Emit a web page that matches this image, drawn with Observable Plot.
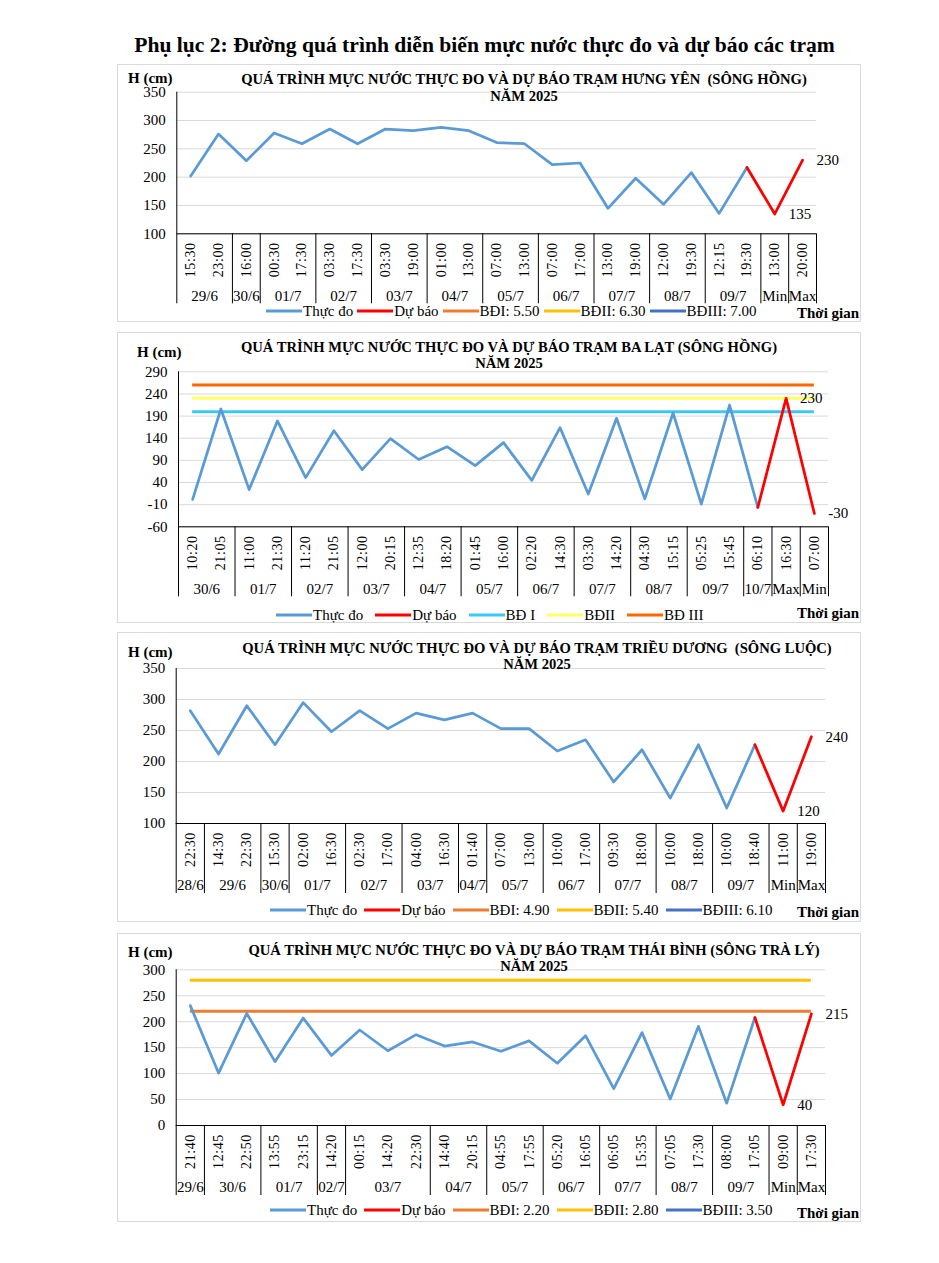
<!DOCTYPE html>
<html><head><meta charset="utf-8">
<script src="https://cdn.jsdelivr.net/npm/d3@7"></script>
<script src="https://cdn.jsdelivr.net/npm/@observablehq/plot@0.6"></script>
<style>
body{margin:0;background:#fff;font-family:"Liberation Serif","Times New Roman",serif;color:#000;}
#page{position:relative;width:939px;height:1263px;background:#fff;overflow:hidden;}
.main-title{position:absolute;top:32px;left:15px;width:939px;text-align:center;font-weight:bold;font-size:21.6px;line-height:26px;}
.box{position:absolute;left:117px;width:744px;border:1px solid #d9d9d9;box-sizing:border-box;}
.chart{position:absolute;left:117px;}
.t{position:absolute;white-space:pre;line-height:1;}
.ttl{font-weight:bold;font-size:14.6px;transform:translate(-50%,-50%);}
.hcm{font-weight:bold;font-size:15px;transform:translateY(-50%);}
.tg{font-weight:bold;font-size:15px;transform:translateY(-50%);}
.legend{position:absolute;display:flex;align-items:center;font-size:15px;transform:translateY(-50%);white-space:nowrap;}
.legend .sw{display:inline-block;width:36px;height:3px;margin-right:1px;}
</style>
</head><body>
<div id="page"><div class="main-title">Phụ lục 2: Đường quá trình diễn biến mực nước thực đo và dự báo các trạm</div></div>
<script>
// ---------- DATA ----------
// Panel 1: Hưng Yên (sông Hồng)
const hyTitle = "QUÁ TRÌNH MỰC NƯỚC THỰC ĐO VÀ DỰ BÁO TRẠM HƯNG YÊN  (SÔNG HỒNG)";
const hyTimes = ["15:30","23:00","16:00","00:30","17:30","03:30","17:30","03:30","19:00","01:00","13:00","07:00","13:00","07:00","17:00","13:00","19:00","12:00","19:30","12:15","19:30","13:00","20:00"];
const hyDays = ["29/6","29/6","30/6","01/7","01/7","02/7","02/7","03/7","03/7","04/7","04/7","05/7","05/7","06/7","06/7","07/7","07/7","08/7","08/7","09/7","09/7","Min","Max"];
const hyObserved = [202,276,229,278,259,285,259,285,282,288,282,261,259,222,225,145,198,152,208,136,217];
const hyForecast = [217,135,230];
const hyLevels = [550,630,700];
const hyLegend = ["Thực đo","Dự báo","BĐI: 5.50","BĐII: 6.30","BĐIII: 7.00"];
const hyYTicks = [100,150,200,250,300,350];

// Panel 2: Ba Lạt (sông Hồng)
const blTitle = "QUÁ TRÌNH MỰC NƯỚC THỰC ĐO VÀ DỰ BÁO TRẠM BA LẠT (SÔNG HỒNG)";
const blTimes = ["10:20","21:05","11:00","21:30","11:20","21:05","12:00","20:15","12:35","18:20","01:45","16:00","02:20","14:30","03:30","14:20","04:30","15:15","05:25","15:45","06:10","16:30","07:00"];
const blDays = ["30/6","30/6","01/7","01/7","02/7","02/7","03/7","03/7","04/7","04/7","05/7","05/7","06/7","06/7","07/7","07/7","08/7","08/7","09/7","09/7","10/7","Max","Min"];
const blObserved = [2,206,24,179,51,157,69,139,92,121,78,130,45,164,14,185,3,197,-9,215,-16];
const blForecast = [-16,230,-30];
const blLevels = [200,230,260];
const blLegend = ["Thực đo","Dự báo","BĐ I","BĐII","BĐ III"];
const blYTicks = [-60,-10,40,90,140,190,240,290];

// Panel 3: Triều Dương (sông Luộc)
const tdTitle = "QUÁ TRÌNH MỰC NƯỚC THỰC ĐO VÀ DỰ BÁO TRẠM TRIỀU DƯƠNG  (SÔNG LUỘC)";
const tdTimes = ["22:30","14:30","22:30","15:30","02:00","16:30","02:30","17:00","04:00","16:30","01:40","07:00","13:00","10:00","17:00","09:30","18:00","10:00","18:00","10:00","18:40","11:00","19:00"];
const tdDays = ["28/6","29/6","29/6","30/6","01/7","01/7","02/7","02/7","03/7","03/7","04/7","05/7","05/7","06/7","06/7","07/7","07/7","08/7","08/7","09/7","09/7","Min","Max"];
const tdObserved = [282,212,290,227,295,248,282,253,278,267,278,253,253,217,235,167,219,141,227,125,227];
const tdForecast = [227,120,240];
const tdLevels = [490,540,610];
const tdLegend = ["Thực đo","Dự báo","BĐI: 4.90","BĐII: 5.40","BĐIII: 6.10"];
const tdYTicks = [100,150,200,250,300,350];

// Panel 4: Thái Bình (sông Trà Lý)
const tbTitle = "QUÁ TRÌNH MỰC NƯỚC THỰC ĐO VÀ DỰ BÁO TRẠM THÁI BÌNH (SÔNG TRÀ LÝ)";
const tbTimes = ["21:40","12:45","22:50","13:55","23:15","14:20","00:15","14:20","22:30","14:40","20:15","04:55","17:55","05:20","16:05","06:05","15:35","07:05","17:30","08:00","17:05","09:00","17:30"];
const tbDays = ["29/6","30/6","30/6","01/7","01/7","02/7","03/7","03/7","03/7","04/7","04/7","05/7","05/7","06/7","06/7","07/7","07/7","08/7","08/7","09/7","09/7","Min","Max"];
const tbObserved = [231,101,216,123,207,135,184,144,175,153,161,143,163,120,173,71,179,51,191,43,208];
const tbForecast = [208,40,215];
const tbLevels = [220,280,350];
const tbLegend = ["Thực đo","Dự báo","BĐI: 2.20","BĐII: 2.80","BĐIII: 3.50"];
const tbYTicks = [0,50,100,150,200,250,300];

// colours
const obsColor = "#5B9BD5", fcColor = "#FF0000";
const levelColorsStd = ["#ED7D31","#FFC000","#4472C4"];
const levelColorsBL = ["#3CC8F5","#FFFF66","#FF6600"];

// ---------- LAYOUT ----------
const panels = [
  {title:hyTitle, times:hyTimes, days:hyDays, observed:hyObserved, forecast:hyForecast, levels:hyLevels, legend:hyLegend, yTicks:hyYTicks, levelColors:levelColorsStd,
   top:64, height:258, mt:27.7, mb:88.7, ml:59.3, mr:45, titleX:524, titleY:[15,32], hY:14, legX:266, legY:247, legGap:4, tgY:249},
  {title:blTitle, times:blTimes, days:blDays, observed:blObserved, forecast:blForecast, levels:blLevels, legend:blLegend, yTicks:blYTicks, levelColors:levelColorsBL,
   top:332, height:291, mt:39.3, mb:96.7, ml:61, mr:33, titleX:509, titleY:[15,31], hY:20, hX:137, legX:276, legY:283, legGap:12, tgY:281},
  {title:tdTitle, times:tdTimes, days:tdDays, observed:tdObserved, forecast:tdForecast, levels:tdLevels, legend:tdLegend, yTicks:tdYTicks, levelColors:levelColorsStd,
   top:632, height:290, mt:36, mb:99, ml:58.7, mr:36, titleX:537, titleY:[16,32], hY:20, legX:270, legY:278, legGap:7, tgY:280},
  {title:tbTitle, times:tbTimes, days:tbDays, observed:tbObserved, forecast:tbForecast, levels:tbLevels, legend:tbLegend, yTicks:tbYTicks, levelColors:levelColorsStd,
   top:933, height:289, mt:36.3, mb:97, ml:58.7, mr:36, titleX:534, titleY:[17,33], hY:19, legX:270, legY:277, legGap:7, tgY:280}
];

const page = document.getElementById("page");
function add(cls, text, left, top){ const d=document.createElement("div"); d.className="t "+cls; d.textContent=text; d.style.left=left+"px"; d.style.top=top+"px"; page.appendChild(d); return d; }

panels.forEach(p => {
  const box = document.createElement("div"); box.className="box"; box.style.top=p.top+"px"; box.style.height=p.height+"px"; page.appendChild(box);
  const n = p.times.length;
  const yMin = p.yTicks[0], yMax = p.yTicks[p.yTicks.length-1];
  const obs = p.observed.map((v,i)=>({i,v}));
  const fcStart = p.observed.length-1;
  const fc = p.forecast.map((v,k)=>({i:fcStart+k, v}));
  const groups=[];
  p.days.forEach((d,i)=>{ const g=groups[groups.length-1]; if(g && g.label===d) g.end=i; else groups.push({label:d,start:i,end:i}); });
  const bounds = [-0.5, ...groups.map(g=>g.end+0.5)];
  const plotH = p.height - p.mt - p.mb;
  const levelMarks = p.levels.map((v,k)=> (v>=yMin && v<=yMax) ? Plot.ruleY([v], {x1:0, x2:n-1, stroke:p.levelColors[k], strokeWidth:3}) : null).filter(Boolean);
  const chart = Plot.plot({
    width:744, height:p.height,
    marginTop:p.mt, marginBottom:p.mb, marginLeft:p.ml, marginRight:p.mr,
    style:{fontFamily:"'Liberation Serif','Times New Roman',serif", fontSize:"15px", color:"#000", background:"transparent", overflow:"visible"},
    x:{domain:[-0.5, n-0.5], axis:null},
    y:{domain:[yMin,yMax], axis:null},
    marks:[
      Plot.ruleY(p.yTicks, {stroke:"#d9d9d9", strokeWidth:1}),
      Plot.ruleY([yMin], {stroke:"#000", strokeWidth:1}),
      Plot.ruleX(bounds, {stroke:"#000", strokeWidth:1, insetTop:plotH, insetBottom:-70}),
      Plot.ruleX([-0.5], {stroke:"#000", strokeWidth:1}),
      Plot.axisY({ticks:p.yTicks, tickSize:0, tickPadding:11, tickFormat:d=>String(d), fontSize:15, label:null}),
      ...levelMarks,
      Plot.line(obs, {x:"i", y:"v", stroke:obsColor, strokeWidth:2.75, strokeLinejoin:"round"}),
      Plot.line(fc, {x:"i", y:"v", stroke:fcColor, strokeWidth:2.75, strokeLinejoin:"round"}),
      Plot.text(fc.slice(1), {x:"i", y:"v", text:d=>String(d.v), textAnchor:"start", dx:14, fontSize:15}),
      Plot.text(d3.range(n), {x:d=>d, y:()=>yMin, text:d=>p.times[d], rotate:-90, dy:26, fontSize:14}),
      Plot.text(groups, {x:g=>(g.start+g.end)/2, y:()=>yMin, text:"label", dy:62, fontSize:15})
    ]
  });
  chart.classList.add("chart");
  chart.style.top = p.top+"px";
  chart.querySelectorAll("text").forEach(t=>{ if(/^\d\d:\d\d$/.test(t.textContent)) t.style.letterSpacing="0.6px"; });
  page.appendChild(chart);
  // titles
  add("ttl", p.title, p.titleX, p.top+p.titleY[0]);
  add("ttl", "NĂM 2025", p.titleX, p.top+p.titleY[1]);
  add("hcm", "H (cm)", p.hX || 128, p.top+p.hY);
  add("tg", "Thời gian", 797, p.top+p.tgY);
  // legend
  const leg = document.createElement("div"); leg.className="legend"; leg.style.left=p.legX+"px"; leg.style.top=(p.top+p.legY)+"px";
  const colors = [obsColor, fcColor, ...p.levelColors];
  p.legend.forEach((lab,k)=>{
    const it=document.createElement("span"); it.style.display="inline-flex"; it.style.alignItems="center"; it.style.marginRight=p.legGap+"px";
    const sw=document.createElement("span"); sw.className="sw"; sw.style.background=colors[k];
    const tx=document.createElement("span"); tx.textContent=lab;
    it.appendChild(sw); it.appendChild(tx); leg.appendChild(it);
  });
  page.appendChild(leg);
});
</script>
</body></html>
